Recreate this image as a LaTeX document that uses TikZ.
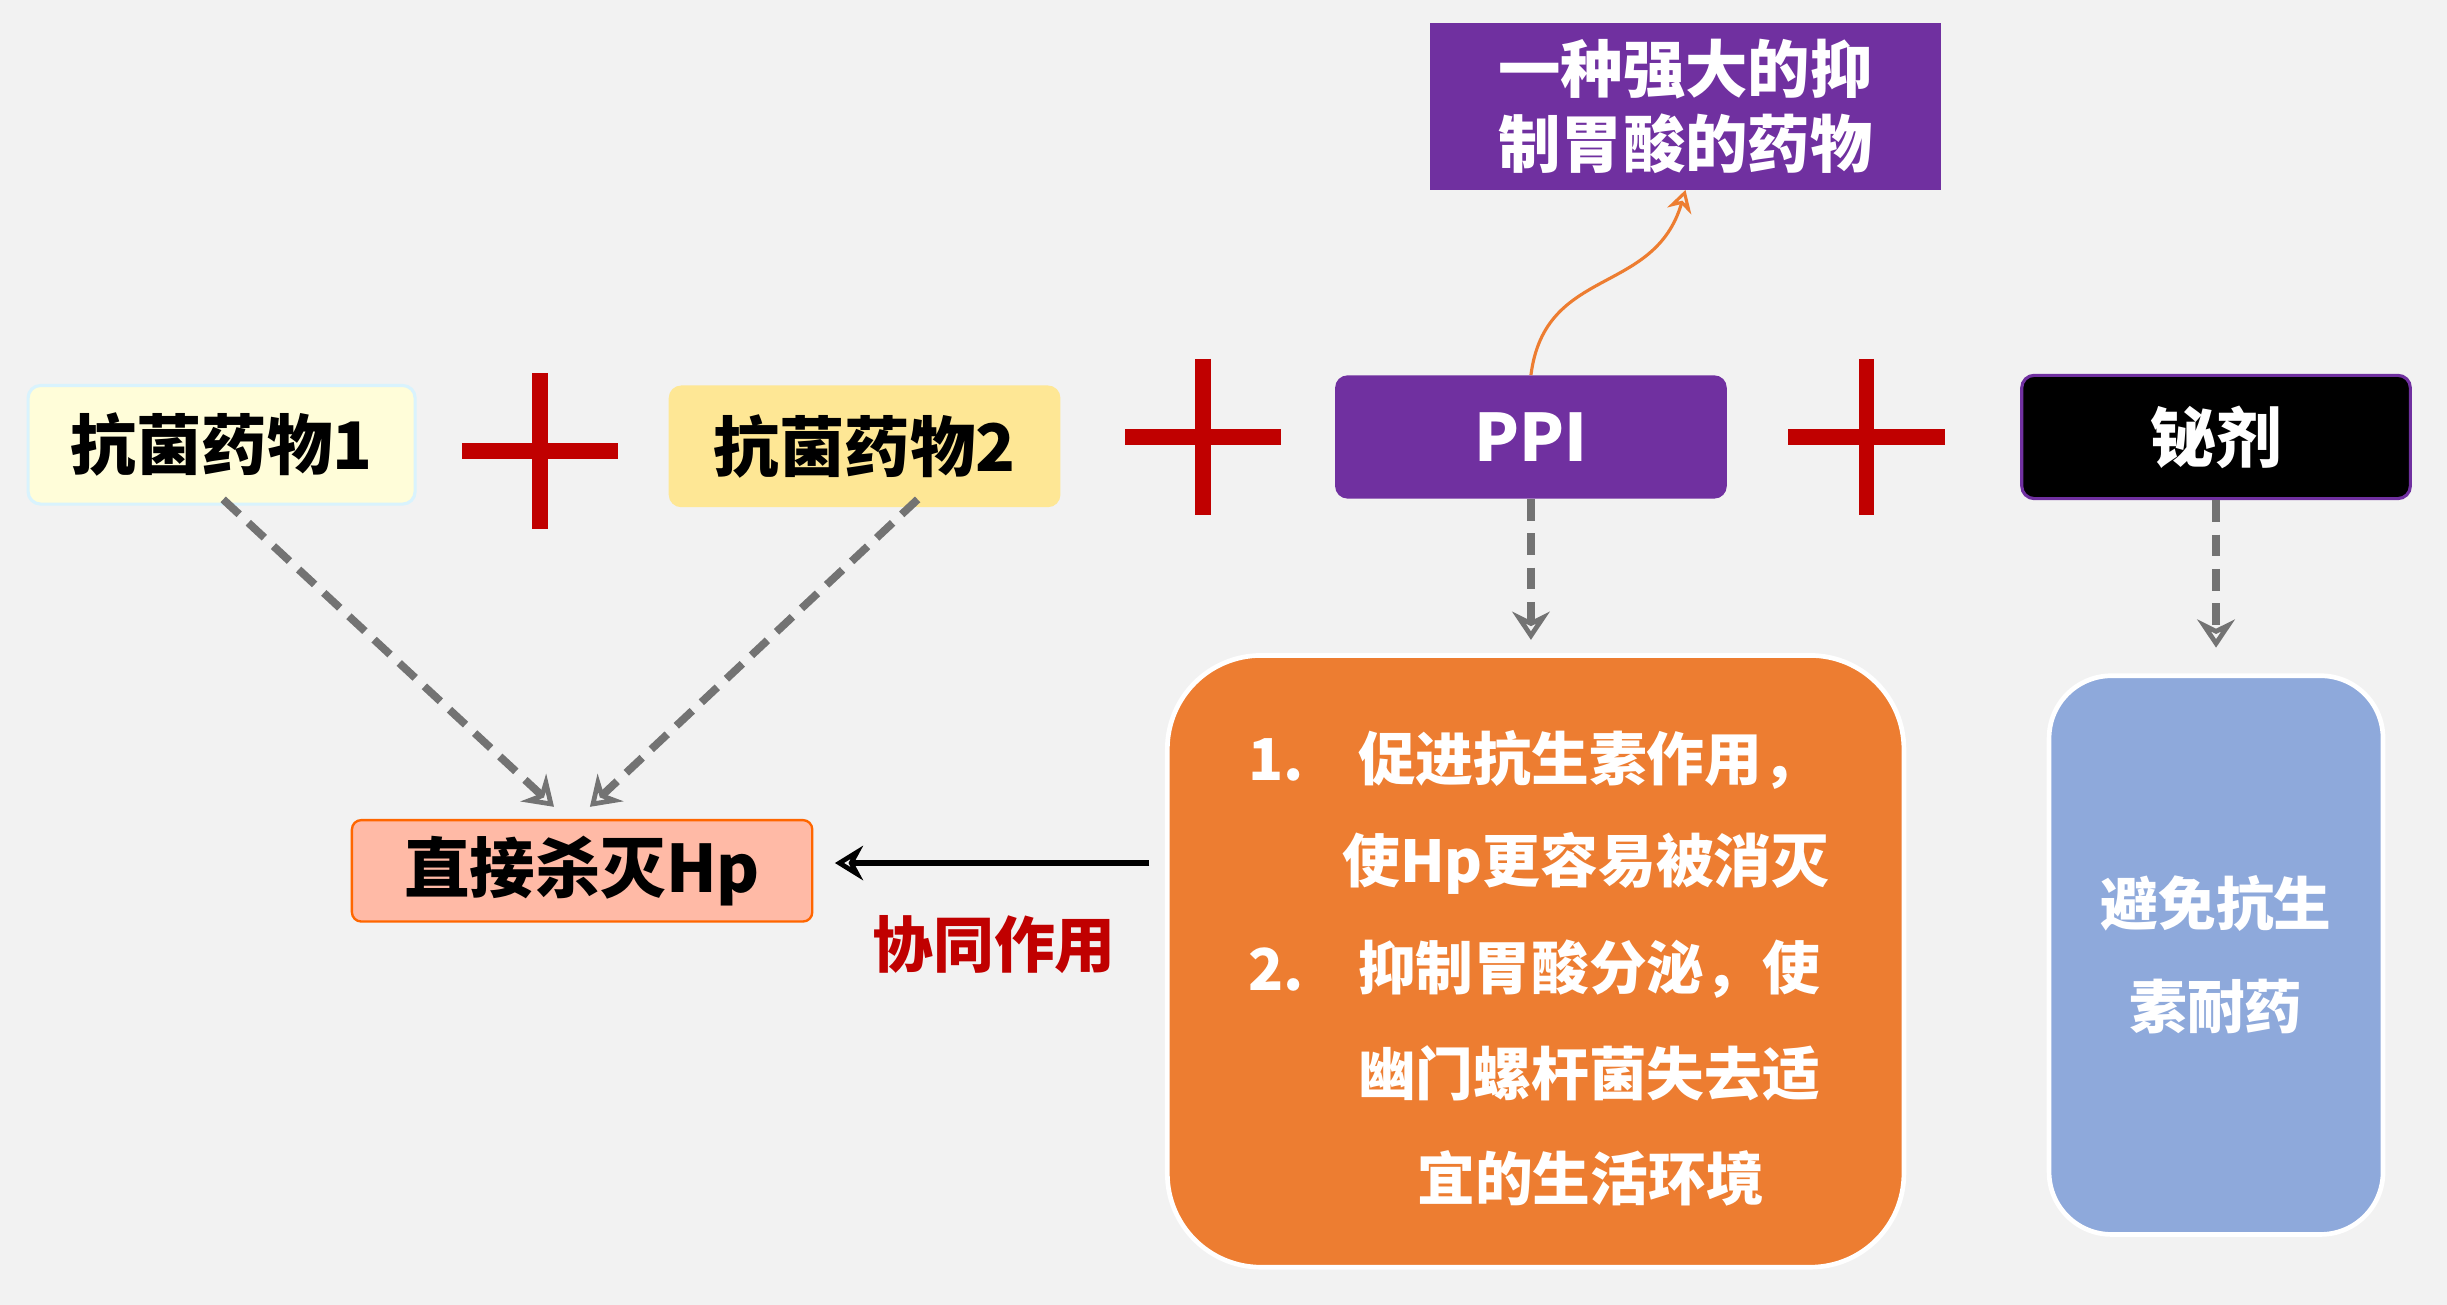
\documentclass[tikz,border=0pt]{standalone}
\usepackage{fontspec}
\setmainfont{Noto Sans CJK SC}
\usetikzlibrary{arrows.meta}
\definecolor{bg}{HTML}{F2F2F2}
\definecolor{pur}{HTML}{7030A0}
\definecolor{dred}{HTML}{C00000}
\definecolor{org}{HTML}{ED7D31}
\definecolor{blu}{HTML}{8EA9DB}
\tikzset{
 box/.style={rounded corners=8pt,minimum height=#1,inner sep=0pt,font=\fontsize{42}{48}\selectfont\bfseries},
 dash arrow/.style={draw=gray!90!black,line width=5pt,dash pattern=on 14pt off 8pt,-{Stealth[length=18pt,width=24pt,open]}},
 plus/.style={dred,line width=10pt},
 wt/.style={white,font=\fontsize{37}{42}\selectfont\bfseries,anchor=west,inner sep=0pt}
}
\begin{document}
\begin{tikzpicture}[x=1pt,y=-1pt]
\fill[bg] (0,0) rectangle (1568,836);
\useasboundingbox (0,0) rectangle (1568,836);
\node[box=76pt,minimum width=248pt,fill=yellow!15,draw=cyan!15,line width=2pt] (a1) at (142,285) {抗菌药物1};
\node[box=78pt,minimum width=251pt,fill=yellow!60!orange!40] (a2) at (554,286) {抗菌药物2};
\node[box=79pt,minimum width=251pt,fill=pur,text=white] (ppi) at (981,280) {PPI};
\node[box=79pt,minimum width=249pt,fill=black,draw=pur,line width=2pt,text=white] (bi) at (1420,280) {铋剂};
\node[fill=pur,minimum width=327pt,minimum height=107pt,inner sep=0pt,text=white,align=center,font=\fontsize{40}{48}\selectfont\bfseries] (top) at (1080,68) {一种强大的抑\\制胃酸的药物};
\foreach \x/\y in {346/289,771/280,1196/280}{
 \draw[plus] (\x-50,\y) -- (\x+50,\y); \draw[plus] (\x,\y-50) -- (\x,\y+50);}
\node[box=65pt,minimum width=295pt,rounded corners=6pt,fill=orange!45!red!35,draw=orange!80!red,line width=1.5pt] (hp) at (373,558) {直接杀灭Hp};
\node[draw=white,line width=3pt,fill=org,rounded corners=60pt,minimum width=472pt,minimum height=392pt] (ob) at (984,616) {};
\node[draw=white,line width=3pt,fill=blu,rounded corners=40pt,minimum width=214pt,minimum height=358pt,text=white,align=center,font=\fontsize{37}{66}\selectfont\bfseries] (bb) at (1420,612) {避免抗生\\素耐药};
\node[wt] at (800,487) {1.};
\node[wt] at (870,487) {促进抗生素作用，};
\node[wt] at (860,553) {使Hp更容易被消灭};
\node[wt] at (800,621) {2.};
\node[wt] at (870,621) {抑制胃酸分泌，使};
\node[wt] at (870,688) {幽门螺杆菌失去适};
\node[wt] at (908,755) {宜的生活环境};
\draw[dash arrow] (143,320) -- (355,517);
\draw[dash arrow] (588,320) -- (378,517);
\draw[dash arrow] (ppi.south) -- (981,410);
\draw[dash arrow] (bi.south) -- (1420,415);
\draw[org,line width=2pt,-{Stealth[length=14pt,width=16pt,open]}] (ppi.north) .. controls (990,170) and (1060,190) .. (top.south);
\coordinate (ae) at (535,553);
\draw[black,line width=4pt,-{Stealth[length=18pt,width=22pt,open]}] (ob.west|-ae) ++(-10,0) -- (ae);
\node[dred,font=\fontsize{39}{44}\selectfont\bfseries] (xt) at (637,605) {协同作用};
\end{tikzpicture}
\end{document}
